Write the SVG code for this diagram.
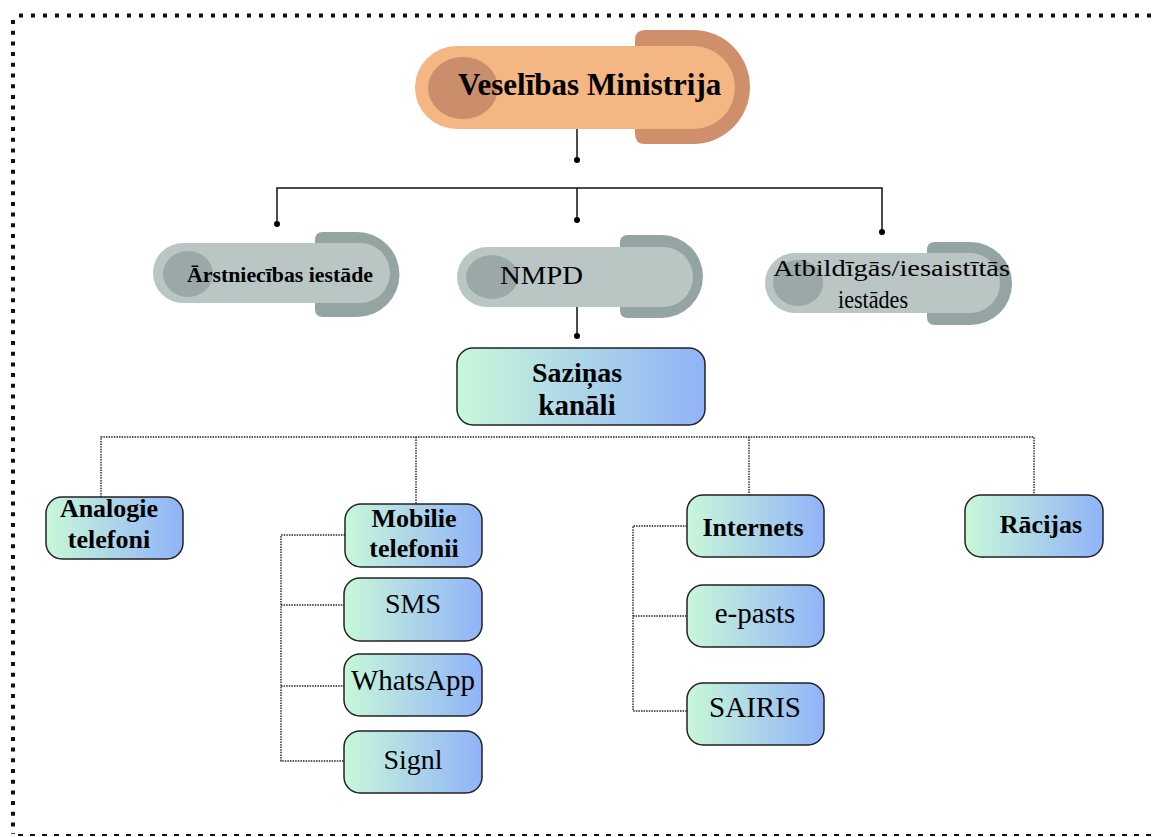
<svg xmlns="http://www.w3.org/2000/svg" width="1155" height="837" viewBox="0 0 1155 837">
<style>
text{font-family:"Liberation Serif","Times New Roman",serif;fill:#000}
.b{font-weight:bold}
.solid{stroke:#111;stroke-width:1.5;fill:none}
.dot{stroke:#222;stroke-width:1.4;stroke-dasharray:1.5 1.1;fill:none}
.end{fill:#000}
.box{fill:url(#g);stroke:#222;stroke-width:1.5}
.pillO{fill:#F4B682}
.backO{fill:#CF8F6A}
.circO{fill:#CB8E6C}
.pillG{fill:#B9C6C4}
.backG{fill:#94A4A2}
.circG{fill:#9AA9A7}
</style>
<defs>
<linearGradient id="g" x1="0" y1="0" x2="1" y2="0">
<stop offset="0" stop-color="#C8F8D9"/>
<stop offset="1" stop-color="#90B3F8"/>
</linearGradient>
</defs>
<rect width="1155" height="837" fill="#fff"/>
<g id="border">
<line x1="19" y1="15.5" x2="1155" y2="15.5" stroke="#111" stroke-width="4" stroke-dasharray="4 8"/>
<line x1="13" y1="20" x2="13" y2="834" stroke="#111" stroke-width="4" stroke-dasharray="4 6.7"/>
<line x1="18" y1="835" x2="1155" y2="835" stroke="#111" stroke-width="2" stroke-dasharray="5 7"/>
</g>
<g id="connectors">
<line class="solid" x1="577" y1="129" x2="577" y2="159"/>
<circle class="end" cx="577" cy="160" r="3"/>
<polyline class="solid" points="277,223 277,188 882,188 882,231"/>
<circle class="end" cx="277" cy="224" r="3"/>
<circle class="end" cx="882" cy="232" r="3"/>
<line class="solid" x1="577" y1="188" x2="577" y2="219"/>
<circle class="end" cx="577" cy="220" r="3"/>
<line class="solid" x1="577" y1="307" x2="577" y2="335"/>
<circle class="end" cx="577" cy="336" r="3"/>
<polyline class="dot" points="101,497 101,437 1034,437 1034,495"/>
<line class="dot" x1="416" y1="437" x2="416" y2="504"/>
<line class="dot" x1="749" y1="437" x2="749" y2="495"/>
<polyline class="dot" points="345,535 281,535 281,761 345,761"/>
<line class="dot" x1="281" y1="605" x2="345" y2="605"/>
<line class="dot" x1="281" y1="686" x2="345" y2="686"/>
<polyline class="dot" points="687,526 633,526 633,711 687,711"/>
<line class="dot" x1="633" y1="616" x2="687" y2="616"/>
</g>
<g id="veselibas-ministrija">
<path class="backO" d="M645 30 H693 A57 57 0 0 1 693 144 H645 Q635 144 635 134 V40 Q635 30 645 30 Z"/>
<rect class="pillO" x="415" y="46" width="320" height="83" rx="41.5"/>
<ellipse class="circO" cx="463" cy="88" rx="35" ry="31"/>
<text class="b" x="458" y="95" font-size="31">Veselības Ministrija</text>
</g>
<g id="arstniecibas-iestade">
<path class="backG" d="M323 232 H357 A42.5 42.5 0 0 1 357 317 H323 Q315 317 315 309 V240 Q315 232 323 232 Z"/>
<rect class="pillG" x="153" y="243" width="237" height="60" rx="30"/>
<ellipse class="circG" cx="188" cy="274" rx="25" ry="23"/>
<text class="b" x="187" y="282" font-size="22" textLength="186" lengthAdjust="spacingAndGlyphs">Ārstniecības iestāde</text>
</g>
<g id="nmpd">
<path class="backG" d="M628 235 H661.5 A41.5 41.5 0 0 1 661.5 318 H628 Q620 318 620 310 V243 Q620 235 628 235 Z"/>
<rect class="pillG" x="457" y="247" width="236" height="60" rx="30"/>
<ellipse class="circG" cx="492" cy="277" rx="26" ry="22"/>
<text x="500" y="284" font-size="26" textLength="83" lengthAdjust="spacingAndGlyphs">NMPD</text>
</g>
<g id="atbildigas-iestades">
<path class="backG" d="M935 242 H970.5 A41.5 41.5 0 0 1 970.5 325 H935 Q927 325 927 317 V250 Q927 242 935 242 Z"/>
<rect class="pillG" x="765" y="253" width="235" height="60" rx="30"/>
<ellipse class="circG" cx="798" cy="283" rx="25" ry="23"/>
<text x="773" y="276" font-size="24" textLength="237" lengthAdjust="spacingAndGlyphs">Atbildīgās/iesaistītās</text>
<text x="838" y="308" font-size="25" textLength="70" lengthAdjust="spacingAndGlyphs">iestādes</text>
</g>
<g id="sazinas-kanali">
<rect class="box" x="457" y="348" width="248" height="77" rx="16"/>
<text class="b" x="577" y="382" font-size="28" text-anchor="middle">Saziņas</text>
<text class="b" x="577" y="415" font-size="29" text-anchor="middle">kanāli</text>
</g>
<g id="analogie-telefoni">
<rect class="box" x="46" y="497" width="137" height="62" rx="16"/>
<text class="b" x="109" y="517" font-size="26" text-anchor="middle">Analogie</text>
<text class="b" x="109" y="548" font-size="26" text-anchor="middle">telefoni</text>
</g>
<g id="mobilie-telefonii">
<rect class="box" x="345" y="504" width="137" height="63" rx="16"/>
<text class="b" x="414" y="527" font-size="26" text-anchor="middle">Mobilie</text>
<text class="b" x="414" y="557" font-size="26" text-anchor="middle">telefonii</text>
</g>
<g id="sms">
<rect class="box" x="344" y="578" width="138" height="63" rx="16"/>
<text x="413" y="613" font-size="28" text-anchor="middle">SMS</text>
</g>
<g id="whatsapp">
<rect class="box" x="344" y="654" width="138" height="62" rx="16"/>
<text x="413" y="690" font-size="29" text-anchor="middle">WhatsApp</text>
</g>
<g id="signl">
<rect class="box" x="344" y="731" width="138" height="62" rx="16"/>
<text x="413" y="769" font-size="28" text-anchor="middle">Signl</text>
</g>
<g id="internets">
<rect class="box" x="687" y="495" width="137" height="62" rx="16"/>
<text class="b" x="753" y="536" font-size="26" text-anchor="middle">Internets</text>
</g>
<g id="e-pasts">
<rect class="box" x="687" y="585" width="137" height="62" rx="16"/>
<text x="755" y="623" font-size="29" text-anchor="middle">e-pasts</text>
</g>
<g id="sairis">
<rect class="box" x="687" y="683" width="137" height="62" rx="16"/>
<text x="755" y="717" font-size="29" text-anchor="middle">SAIRIS</text>
</g>
<g id="racijas">
<rect class="box" x="965" y="495" width="138" height="62" rx="16"/>
<text class="b" x="1041" y="533" font-size="26" text-anchor="middle">Rācijas</text>
</g>
</svg>
